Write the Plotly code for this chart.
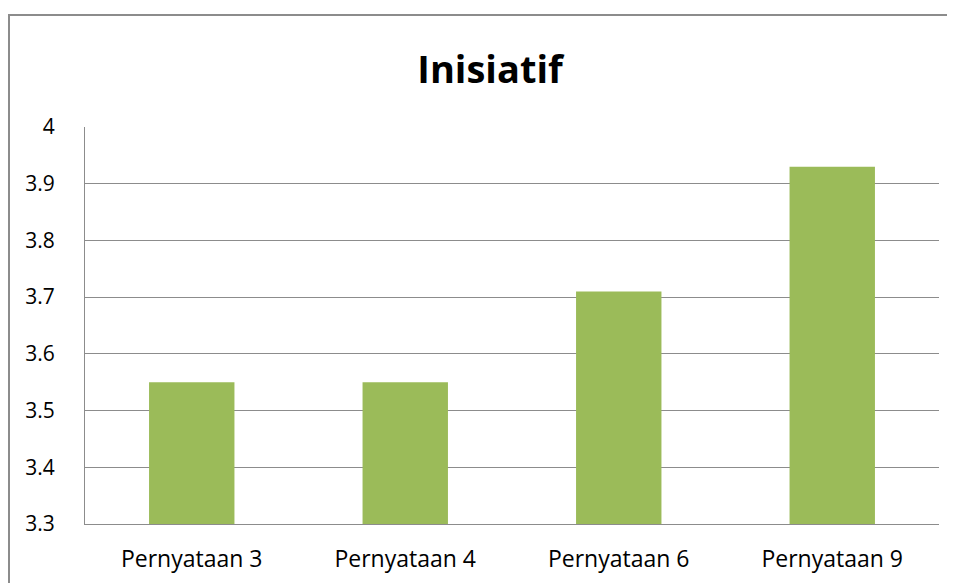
import plotly.graph_objects as go

categories = ["Pernyataan 3", "Pernyataan 4", "Pernyataan 6", "Pernyataan 9"]
values = [3.55, 3.55, 3.71, 3.93]
y_ticks = [3.3, 3.4, 3.5, 3.6, 3.7, 3.8, 3.9, 4]
y_tick_labels = ["3.3", "3.4", "3.5", "3.6", "3.7", "3.8", "3.9", "4"]

fig = go.Figure(go.Bar(
    x=categories,
    y=values,
    marker=dict(color="#9BBB59", line=dict(width=0)),
    width=0.4,
))

# the page adds an 8px body margin, so the figure is a bit smaller
fig.update_layout(
    width=947, height=575,
    margin=dict(l=77, r=16, t=119, b=59),
    paper_bgcolor="white",
    plot_bgcolor="white",
    font=dict(family="Open Sans", color="black"),
    title=dict(text="<b>Inisiatif</b>", x=0.509, xanchor="center",
               y=0.892, yanchor="middle", font=dict(size=38)),
    showlegend=False,
    shapes=[dict(type="rect", xref="paper", yref="paper",
                 x0=-0.089, x1=1.2, y0=-0.4, y1=1.282,
                 line=dict(color="#8c8c8c", width=2), layer="below")],
)

fig.update_yaxes(
    range=[3.3, 4], tickvals=y_ticks, ticktext=y_tick_labels,
    showgrid=True, gridcolor="#8c8c8c", gridwidth=1,
    showline=True, linecolor="#8c8c8c", linewidth=1,
    zeroline=False, ticks="", ticklabelstandoff=25,
    tickfont=dict(size=21), automargin=False,
)
fig.update_xaxes(
    showline=True, linecolor="#8c8c8c", linewidth=1,
    showgrid=False, ticks="", ticklabelstandoff=14,
    tickfont=dict(size=23), automargin=False,
)

fig.write_html("out.html")
